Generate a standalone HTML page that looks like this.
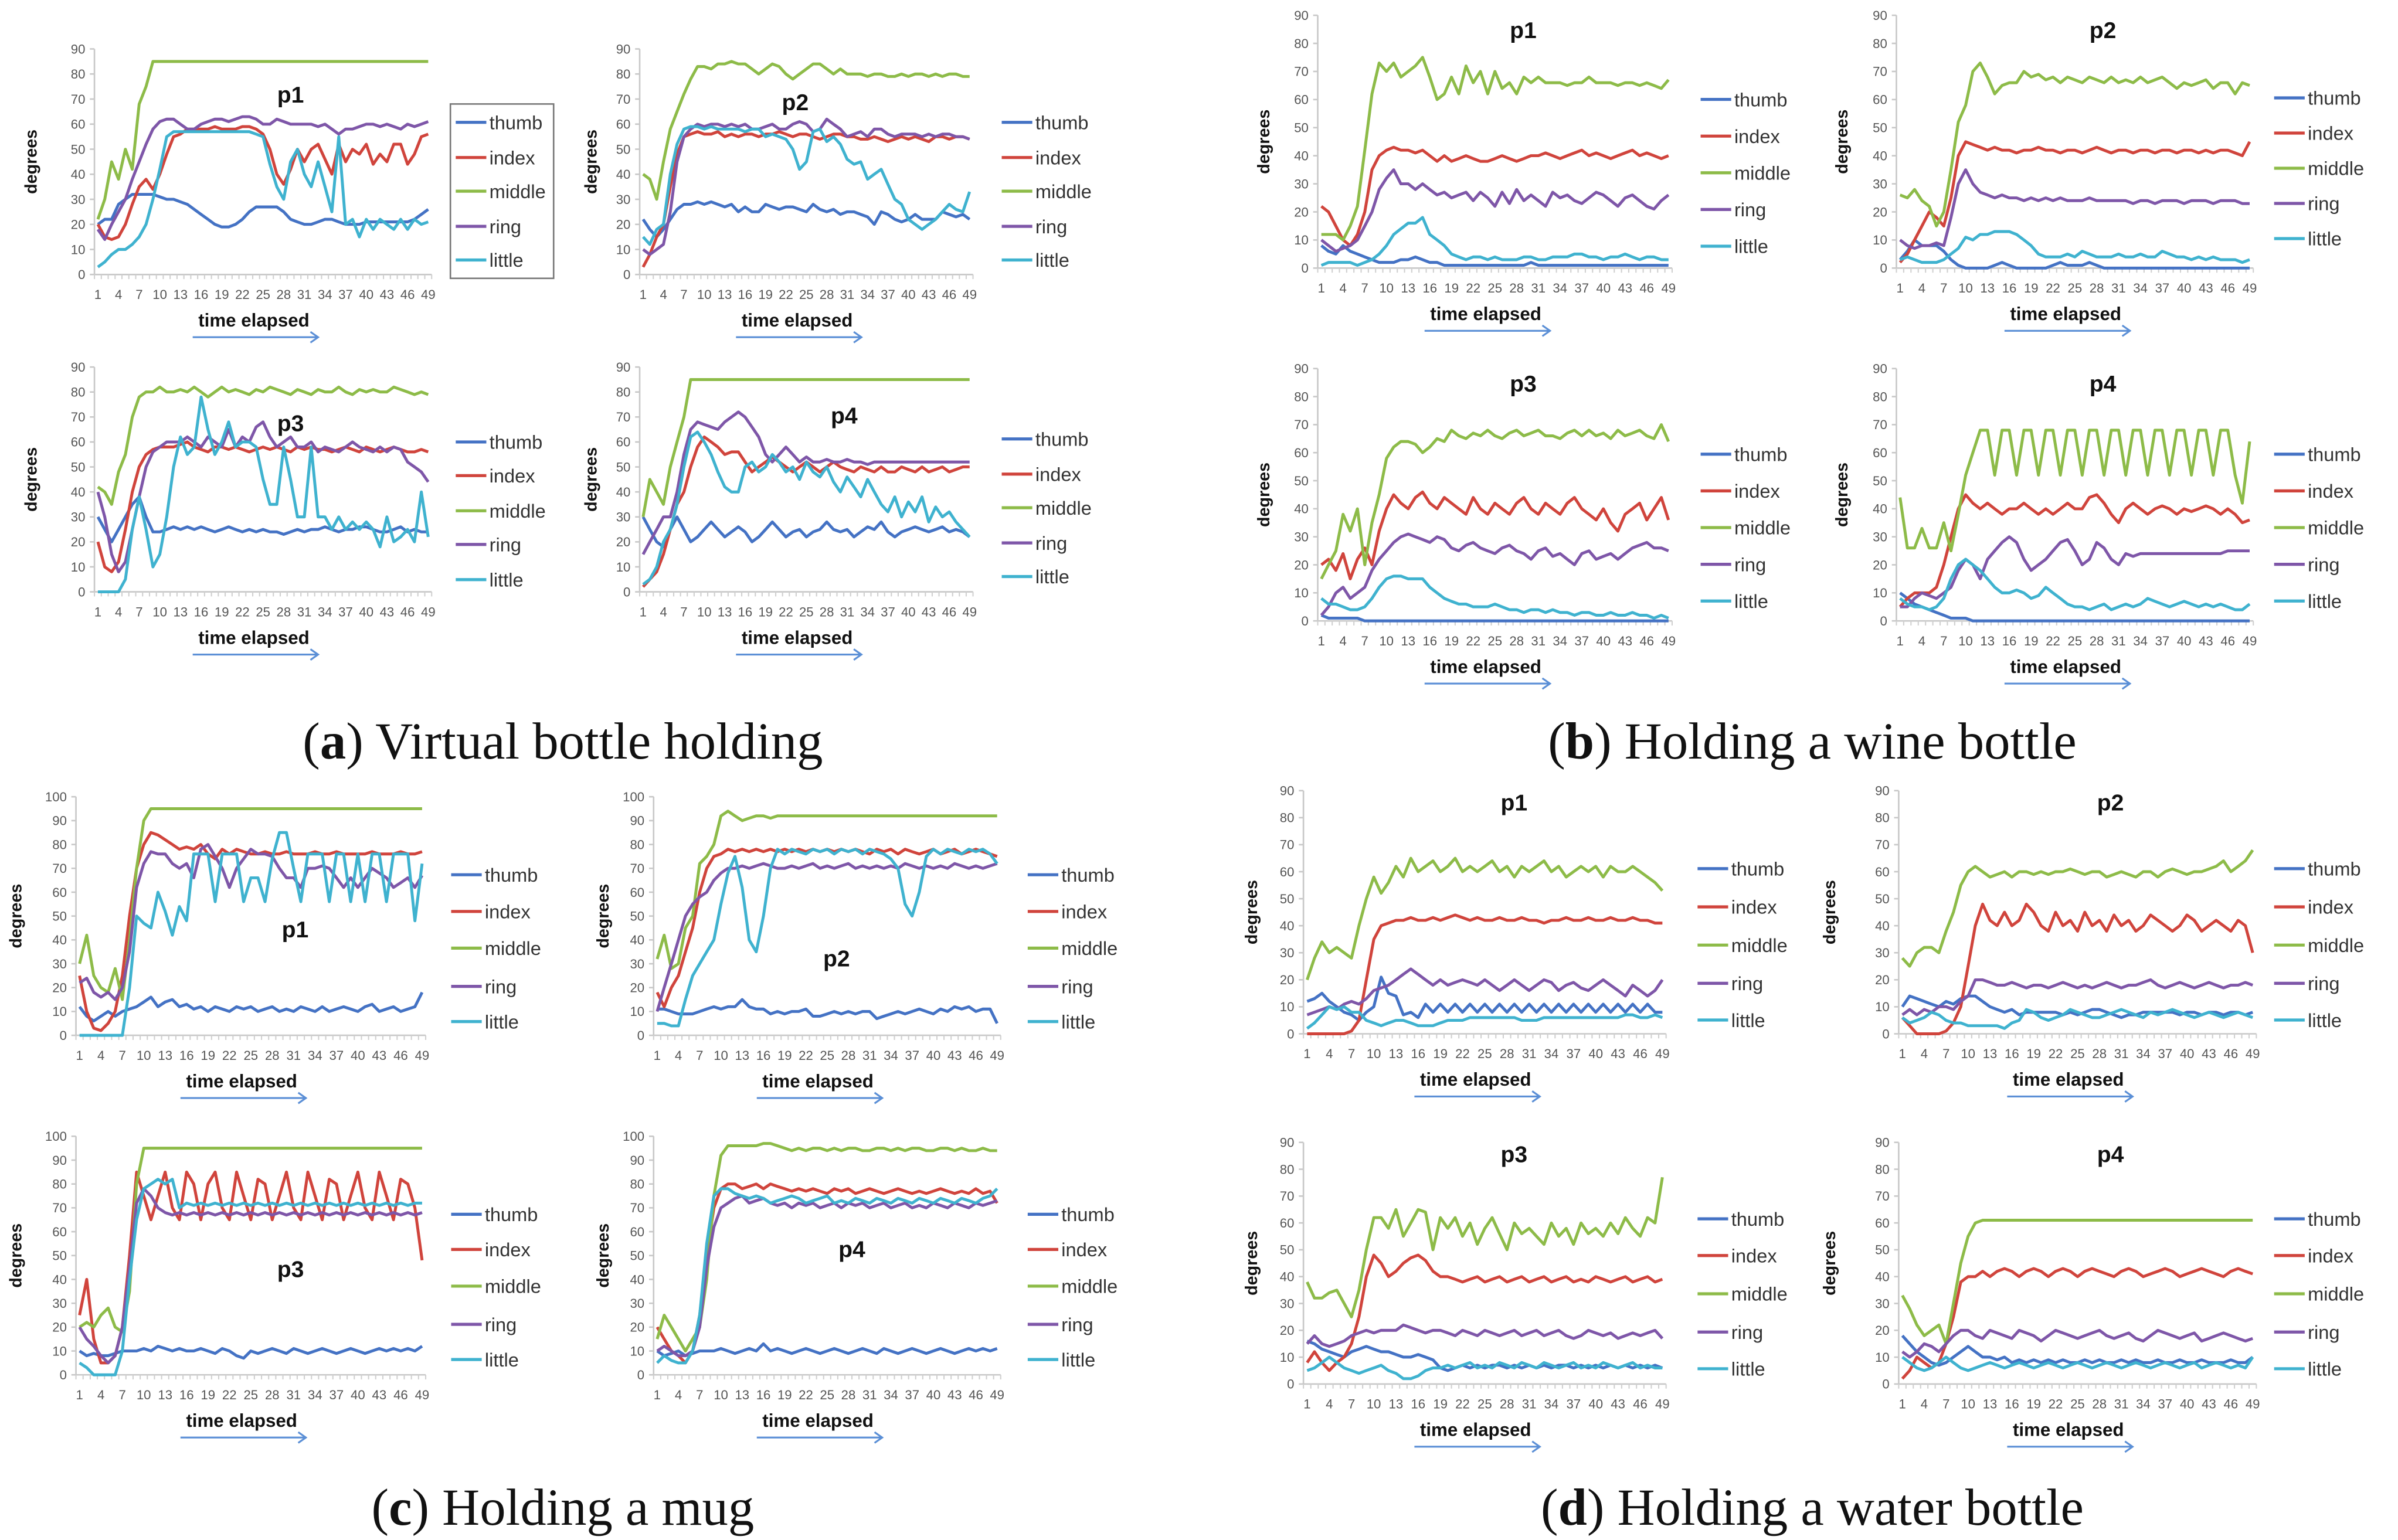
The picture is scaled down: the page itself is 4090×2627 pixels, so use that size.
<!DOCTYPE html>
<html><head><meta charset="utf-8"><style>
html,body{margin:0;padding:0;background:#fff;}
svg{display:block;}
.tk{font-family:"Liberation Sans",sans-serif;font-size:8.5px;fill:#555;}
.lg{font-family:"Liberation Sans",sans-serif;font-size:12.5px;fill:#333;}
.tt{font-family:"Liberation Sans",sans-serif;font-size:15px;font-weight:bold;fill:#111;}
.te{font-family:"Liberation Sans",sans-serif;font-size:12px;font-weight:bold;fill:#111;}
.dg{font-family:"Liberation Sans",sans-serif;font-size:11px;font-weight:bold;fill:#111;}
.cap{font-family:"Liberation Serif",serif;font-size:34px;fill:#111;}
</style></head><body>
<svg id="fig" width="4090" height="2627" viewBox="0 0 1568 1007" preserveAspectRatio="none" xmlns="http://www.w3.org/2000/svg">
<text class="cap" x="368" y="496" text-anchor="middle">(<tspan font-weight="bold">a</tspan>) Virtual bottle holding</text>
<text class="cap" x="1185" y="496" text-anchor="middle">(<tspan font-weight="bold">b</tspan>) Holding a wine bottle</text>
<text class="cap" x="368" y="997" text-anchor="middle">(<tspan font-weight="bold">c</tspan>) Holding a mug</text>
<text class="cap" x="1185" y="997" text-anchor="middle">(<tspan font-weight="bold">d</tspan>) Holding a water bottle</text>
</svg>
<script>
const seriesNames=["thumb","index","middle","ring","little"];
const xTickLabels=[1,4,7,10,13,16,19,22,25,28,31,34,37,40,43,46,49];
const yTicks90=[0,10,20,30,40,50,60,70,80,90];
const yTicks100=[0,10,20,30,40,50,60,70,80,90,100];

// (a) p1
const A1_thumb=[20,22,22,28,30,32,32,32,32,31,30,30,29,28,26,24,22,20,19,19,20,22,25,27,27,27,27,25,22,21,20,20,21,22,22,21,20,20,20,21,21,21,21,21,21,21,22,24,26];
const A1_index=[20,15,14,15,20,28,35,38,34,40,48,55,56,58,58,58,58,59,58,58,58,59,59,58,56,50,40,36,42,50,45,50,52,46,40,52,45,50,48,52,44,48,45,52,52,44,48,55,56];
const A1_middle=[22,30,45,38,50,42,68,75,85,85,85,85,85,85,85,85,85,85,85,85,85,85,85,85,85,85,85,85,85,85,85,85,85,85,85,85,85,85,85,85,85,85,85,85,85,85,85,85,85];
const A1_ring=[18,14,20,25,30,38,45,52,58,61,62,62,60,58,58,60,61,62,62,61,62,63,63,62,60,60,62,61,60,60,60,60,59,60,58,56,58,58,59,60,60,59,60,59,58,60,59,60,61];
const A1_little=[3,5,8,10,10,12,15,20,30,42,55,57,57,57,57,57,57,57,57,57,57,57,57,56,55,44,35,30,45,50,40,35,45,35,25,55,20,22,15,22,18,22,20,18,22,18,22,20,21];
// (a) p2
const A2_thumb=[22,18,15,18,22,26,28,28,29,28,29,28,27,28,25,27,25,25,28,27,26,27,27,26,25,28,26,25,26,24,25,25,24,23,20,25,24,22,21,22,24,22,22,22,25,24,23,24,22];
const A2_index=[3,8,15,20,35,48,55,56,57,56,56,57,55,56,55,56,56,55,56,56,57,56,55,56,56,55,54,55,56,56,55,55,54,54,55,54,53,54,55,54,55,54,53,55,55,54,55,55,54];
const A2_middle=[40,38,30,45,58,65,72,78,83,83,82,84,84,85,84,84,82,80,82,84,83,80,78,80,82,84,84,82,80,82,80,80,80,79,80,80,79,79,80,79,80,80,79,80,79,80,80,79,79];
const A2_ring=[10,8,10,12,25,45,55,58,60,59,60,60,59,60,59,60,58,58,59,60,58,58,60,61,60,57,58,62,60,58,55,56,57,55,58,58,56,55,56,56,56,55,56,55,56,56,55,55,54];
const A2_little=[15,12,18,20,40,52,58,59,59,58,59,58,58,58,58,57,58,58,55,56,55,54,50,42,45,57,58,53,55,52,46,44,45,38,40,42,36,30,28,22,20,18,20,22,25,28,26,25,33];
// (a) p3
const A3_thumb=[30,25,20,25,30,35,38,30,24,24,25,26,25,26,25,26,25,24,25,26,25,24,25,24,25,24,24,23,24,25,24,25,25,26,25,24,25,25,26,26,25,24,24,25,26,24,25,24,24];
const A3_index=[20,10,8,12,25,40,50,55,57,58,58,58,59,60,58,57,56,58,58,57,58,57,56,57,58,57,58,57,56,58,57,58,57,57,56,57,58,57,56,58,57,56,57,58,57,56,56,57,56];
const A3_middle=[42,40,35,48,55,70,78,80,80,82,80,80,81,80,82,80,78,80,82,80,81,80,79,81,80,82,81,80,79,81,80,79,81,80,80,82,80,79,81,80,81,80,80,82,81,80,79,80,79];
const A3_ring=[40,30,15,8,12,25,38,50,56,58,60,60,60,62,60,58,62,60,58,65,58,62,60,66,68,62,58,60,62,58,58,60,56,58,57,56,58,60,58,57,56,58,56,58,57,52,50,48,44];
const A3_little=[0,0,0,0,5,25,38,25,10,15,30,50,62,55,58,78,65,55,60,68,58,60,60,58,45,35,35,58,45,30,30,58,30,30,25,30,25,28,25,28,25,18,30,20,22,25,20,40,22];
// (a) p4
const A4_thumb=[30,25,20,18,25,30,25,20,22,25,28,25,22,24,26,24,20,22,25,28,25,22,24,25,22,24,25,28,25,24,25,22,24,26,25,28,24,22,24,25,26,25,24,25,26,24,25,24,22];
const A4_index=[2,5,8,15,25,35,40,50,58,62,60,58,55,56,56,52,48,50,52,54,52,50,48,50,52,50,48,50,52,50,49,48,50,49,48,50,48,48,50,49,48,50,48,49,50,48,49,50,50];
const A4_middle=[30,45,40,35,50,60,70,85,85,85,85,85,85,85,85,85,85,85,85,85,85,85,85,85,85,85,85,85,85,85,85,85,85,85,85,85,85,85,85,85,85,85,85,85,85,85,85,85,85];
const A4_ring=[15,20,25,30,30,40,55,65,68,67,66,65,68,70,72,70,66,62,55,52,55,58,55,52,54,52,52,53,52,52,53,52,52,51,52,52,52,52,52,52,52,52,52,52,52,52,52,52,52];
const A4_little=[3,5,10,20,25,35,50,62,64,60,55,48,42,40,40,50,52,48,50,55,52,48,50,45,52,48,46,50,44,40,46,42,38,45,40,35,32,38,30,36,32,38,28,34,30,32,28,25,22];
// (b) p1
const B1_thumb=[8,6,5,8,6,5,4,3,2,2,2,3,3,4,3,2,2,1,1,1,1,1,1,1,1,1,1,1,1,2,1,1,1,1,1,1,1,1,1,1,1,1,1,1,1,1,1,1,1];
const B1_index=[22,20,15,10,8,12,20,35,40,42,43,42,42,41,42,40,38,40,38,39,40,39,38,38,39,40,39,38,39,40,40,41,40,39,40,41,42,40,41,40,39,40,41,42,40,41,40,39,40];
const B1_middle=[12,12,12,10,15,22,42,62,73,70,73,68,70,72,75,68,60,62,68,62,72,66,70,62,70,64,66,62,68,66,68,66,66,66,65,66,66,68,66,66,66,65,66,66,65,66,65,64,67];
const B1_ring=[10,8,6,7,8,10,15,20,28,32,35,30,30,28,30,28,26,27,25,26,27,24,27,25,22,27,23,28,24,26,24,22,27,25,26,24,23,25,27,26,24,22,25,26,24,22,21,24,26];
const B1_little=[1,2,2,2,2,1,2,3,5,8,12,14,16,16,18,12,10,8,5,4,3,4,4,3,4,3,3,3,4,4,3,3,4,4,4,5,5,4,4,3,4,4,5,4,3,4,4,3,3];
// (b) p2
const B2_thumb=[3,6,10,8,8,8,6,3,1,0,0,0,0,1,2,1,0,0,0,0,0,1,2,1,1,1,2,1,0,0,0,0,0,0,0,0,0,0,0,0,0,0,0,0,0,0,0,0,0];
const B2_index=[2,5,10,15,20,18,15,25,40,45,44,43,42,43,42,42,41,42,42,43,42,42,41,42,42,41,42,43,42,41,42,42,41,42,42,41,42,42,41,42,42,41,42,41,42,42,41,40,45];
const B2_middle=[26,25,28,24,22,15,20,35,52,58,70,73,68,62,65,66,66,70,68,69,67,68,66,68,67,66,68,67,66,68,66,67,66,68,66,67,68,66,64,66,65,66,67,64,66,66,62,66,65];
const B2_ring=[10,8,7,8,8,9,8,18,30,35,30,27,26,25,26,25,25,24,25,24,25,24,25,24,24,24,25,24,24,24,24,24,23,24,24,23,24,24,24,23,24,24,24,23,24,24,24,23,23];
const B2_little=[3,4,3,2,2,2,3,5,7,11,10,12,12,13,13,13,12,10,8,5,4,4,4,5,4,6,5,4,4,4,5,4,4,5,4,4,6,5,4,4,3,4,3,4,3,3,3,2,3];
// (b) p3
const B3_thumb=[2,1,1,1,1,1,0,0,0,0,0,0,0,0,0,0,0,0,0,0,0,0,0,0,0,0,0,0,0,0,0,0,0,0,0,0,0,0,0,0,0,0,0,0,0,0,0,0,0];
const B3_index=[20,22,18,24,15,22,26,20,32,40,45,42,40,44,46,42,40,44,42,40,38,44,40,38,42,40,38,42,44,40,38,42,40,38,42,44,40,38,36,40,35,32,38,40,42,36,40,44,36];
const B3_middle=[15,20,25,38,32,40,20,35,45,58,62,64,64,63,60,62,65,64,68,66,65,67,66,68,66,65,67,68,66,67,68,66,66,65,67,68,66,68,66,67,65,68,66,67,68,66,65,70,64];
const B3_ring=[2,5,10,12,8,10,12,18,22,25,28,30,31,30,29,28,30,29,26,25,27,28,26,25,24,26,27,25,24,22,25,26,23,24,22,20,24,25,22,23,24,22,24,26,27,28,26,26,25];
const B3_little=[8,6,6,5,4,4,5,8,12,15,16,16,15,15,15,12,10,8,7,6,6,5,5,5,6,5,4,4,3,4,4,3,4,3,3,2,3,3,2,2,3,2,2,3,2,2,1,2,1];
// (b) p4
const B4_thumb=[10,8,6,5,4,3,2,1,1,1,0,0,0,0,0,0,0,0,0,0,0,0,0,0,0,0,0,0,0,0,0,0,0,0,0,0,0,0,0,0,0,0,0,0,0,0,0,0,0];
const B4_index=[5,8,10,10,10,12,20,30,40,45,42,40,42,40,38,40,40,42,40,38,40,38,40,42,40,40,44,45,42,38,35,40,42,40,38,40,41,40,38,40,39,40,41,40,38,40,38,35,36];
const B4_middle=[44,26,26,33,26,26,35,25,38,52,60,68,68,52,68,68,52,68,68,52,68,68,52,68,68,52,68,68,52,68,68,52,68,68,52,68,68,52,68,68,52,68,68,52,68,68,52,42,64];
const B4_ring=[5,5,8,10,9,8,10,12,18,22,20,15,22,25,28,30,28,22,18,20,22,25,28,29,25,20,22,28,26,22,20,24,23,24,24,24,24,24,24,24,24,24,24,24,24,25,25,25,25];
const B4_little=[8,6,5,5,4,5,8,15,20,22,20,18,15,12,10,10,11,10,8,9,12,10,8,6,5,5,4,5,6,4,5,6,5,6,8,7,6,5,6,7,6,5,6,5,6,5,4,4,6];
// (c) p1
const C1_thumb=[12,8,6,8,10,8,10,11,12,14,16,12,14,15,12,13,11,12,10,12,11,10,12,11,12,10,11,12,10,11,10,12,11,10,12,10,11,12,11,10,12,13,10,11,12,10,11,12,18];
const C1_index=[25,10,3,2,5,10,25,50,70,80,85,84,82,80,78,79,78,80,76,74,78,76,78,77,76,76,77,76,76,77,76,76,76,77,76,76,77,76,76,76,76,77,76,76,76,77,76,76,77];
const C1_middle=[30,42,25,20,18,28,15,40,70,90,95,95,95,95,95,95,95,95,95,95,95,95,95,95,95,95,95,95,95,95,95,95,95,95,95,95,95,95,95,95,95,95,95,95,95,95,95,95,95];
const C1_ring=[22,24,18,16,18,15,20,35,62,72,77,76,76,72,70,72,66,78,80,75,70,62,70,74,78,76,76,75,70,66,66,62,70,70,71,70,66,62,66,62,66,70,68,66,62,64,66,62,67];
const C1_little=[0,0,0,0,0,0,0,20,50,47,45,60,52,42,54,48,76,76,76,56,76,76,76,56,66,66,56,74,85,85,70,56,76,76,76,56,76,76,56,76,56,76,76,56,76,76,76,48,72];
// (c) p2
const C2_thumb=[11,11,10,9,9,9,10,11,12,11,12,12,15,12,11,11,9,10,9,10,10,11,8,8,9,10,9,10,9,10,10,7,8,9,10,9,10,11,10,9,11,10,12,11,12,10,11,11,5];
const C2_index=[18,12,20,25,35,45,60,70,75,76,78,77,78,77,78,77,78,77,78,77,78,77,78,77,78,77,78,77,78,77,76,78,77,78,76,78,77,76,77,78,76,77,78,76,77,78,77,76,75];
const C2_middle=[32,42,28,30,45,50,72,75,80,92,94,92,90,91,92,92,91,92,92,92,92,92,92,92,92,92,92,92,92,92,92,92,92,92,92,92,92,92,92,92,92,92,92,92,92,92,92,92,92];
const C2_ring=[10,20,30,40,50,55,58,60,65,68,70,70,71,70,71,72,71,70,70,71,70,71,72,70,71,70,71,72,70,71,70,71,70,71,70,72,71,70,71,70,71,70,72,71,70,71,70,71,72];
const C2_little=[5,5,4,4,15,25,30,35,40,55,68,75,62,40,35,50,70,78,76,78,77,76,78,77,78,76,78,77,78,76,78,77,76,74,70,55,50,60,75,78,76,78,77,76,78,77,78,76,72];
// (c) p3
const C3_thumb=[10,8,9,8,8,9,10,10,10,11,10,12,11,10,11,10,10,11,10,9,11,10,8,7,10,9,10,11,10,9,11,10,9,10,11,10,9,10,11,10,9,10,11,10,11,10,11,10,12];
const C3_index=[25,40,15,5,5,8,20,50,85,75,65,75,85,70,65,85,80,65,80,85,70,65,85,75,65,82,80,65,75,85,70,65,85,75,65,82,80,65,75,85,70,65,85,75,65,82,80,70,48];
const C3_middle=[20,22,20,25,28,20,18,35,80,95,95,95,95,95,95,95,95,95,95,95,95,95,95,95,95,95,95,95,95,95,95,95,95,95,95,95,95,95,95,95,95,95,95,95,95,95,95,95,95];
const C3_ring=[20,15,12,8,5,8,20,45,72,78,75,70,68,67,68,67,68,67,68,67,68,67,68,67,68,67,68,67,68,67,68,67,68,67,68,67,68,67,68,67,68,67,68,67,68,67,68,67,68];
const C3_little=[5,3,0,0,0,0,10,40,65,78,80,82,80,82,70,72,71,72,71,72,71,72,71,72,71,72,71,72,71,72,71,72,71,72,71,72,71,72,71,72,71,72,71,72,71,72,71,72,72];
// (c) p4
const C4_thumb=[10,8,9,10,8,9,10,10,10,11,10,9,10,11,10,13,10,11,10,9,10,11,10,9,10,11,10,9,10,11,10,9,11,10,9,10,11,10,9,10,11,10,9,10,11,10,11,10,11];
const C4_index=[20,15,10,8,5,10,25,50,70,78,80,80,78,79,80,78,80,79,78,77,78,77,78,77,76,78,77,78,76,77,78,77,76,77,78,77,76,77,76,77,78,77,76,77,76,78,76,77,72];
const C4_middle=[15,25,20,15,10,15,20,40,75,92,96,96,96,96,96,97,97,96,95,94,95,94,95,95,94,95,94,95,95,94,94,95,95,94,95,94,95,95,94,94,95,95,94,95,94,94,95,94,94];
const C4_ring=[10,12,10,8,8,10,20,45,62,70,72,74,75,72,73,74,72,71,72,70,72,71,72,70,71,72,70,72,71,72,70,71,72,70,71,72,70,71,70,72,71,70,72,71,70,72,71,72,73];
const C4_little=[5,8,6,5,5,10,25,55,75,78,78,76,75,74,75,74,72,73,74,75,74,72,73,74,75,72,73,72,74,73,72,74,73,72,74,73,72,74,73,72,74,73,72,74,73,72,74,75,78];
// (d) p1
const D1_thumb=[12,13,15,12,10,8,7,5,8,10,21,15,14,7,8,6,11,8,11,8,11,8,11,8,11,8,11,8,11,8,11,8,11,8,11,8,11,8,11,8,11,8,11,8,11,8,11,8,8];
const D1_index=[0,0,0,0,0,0,1,5,20,35,40,41,42,42,43,42,42,43,42,43,44,43,42,43,42,42,43,42,42,43,42,42,41,42,42,43,42,42,43,42,42,43,42,42,43,42,42,41,41];
const D1_middle=[20,28,34,30,32,30,28,40,50,58,52,56,62,58,65,60,62,64,60,62,65,60,62,60,62,64,60,62,58,62,60,62,64,60,62,58,60,62,60,62,58,62,60,60,62,60,58,56,53];
const D1_ring=[7,8,9,10,9,11,12,11,13,16,17,18,20,22,24,22,20,18,20,18,19,20,19,18,20,18,16,18,20,18,16,18,20,19,16,18,19,17,16,18,20,18,16,14,18,16,14,16,20];
const D1_little=[2,4,7,10,9,10,8,8,5,4,3,4,5,5,4,3,3,3,4,5,5,5,6,6,6,6,6,6,6,5,5,5,6,6,6,6,6,6,6,6,6,6,6,7,7,6,6,7,6];
// (d) p2
const D2_thumb=[10,14,13,12,11,10,12,11,13,14,14,12,10,9,8,9,7,8,8,8,8,8,7,8,7,8,9,9,8,7,6,7,7,8,8,8,8,8,7,8,8,7,8,8,7,8,8,7,8];
const D2_index=[6,3,0,0,0,0,1,4,10,25,40,48,42,40,45,40,42,48,45,40,38,45,40,42,38,45,40,42,38,44,40,42,38,40,44,42,40,38,40,44,42,38,40,42,40,38,42,40,30];
const D2_middle=[28,25,30,32,32,30,38,45,55,60,62,60,58,59,60,58,60,60,59,60,59,60,60,61,60,59,60,60,58,59,60,59,58,60,60,58,60,61,60,59,60,60,61,62,64,60,62,64,68];
const D2_ring=[7,9,7,9,8,10,10,9,12,14,20,20,19,18,18,19,18,17,18,18,17,18,19,18,17,18,17,18,19,18,17,18,18,19,20,18,17,18,19,18,17,18,19,18,17,18,18,19,18];
const D2_little=[6,4,5,6,8,7,5,4,4,3,3,3,3,3,2,4,5,9,8,6,5,6,7,9,8,7,6,6,7,8,9,8,7,6,8,7,8,9,8,7,6,7,8,7,6,7,8,7,6];
// (d) p3
const D3_thumb=[16,15,13,12,11,10,12,13,14,13,12,12,11,10,10,11,10,9,6,5,6,7,6,7,6,7,7,6,7,6,7,6,7,6,7,7,6,7,6,7,6,7,6,7,6,7,6,7,6];
const D3_index=[8,12,8,5,8,10,15,25,40,48,45,40,42,45,47,48,46,42,40,40,39,38,39,40,38,39,40,38,39,40,38,39,40,38,39,40,38,39,38,40,39,38,39,40,38,39,40,38,39];
const D3_middle=[38,32,32,34,35,30,25,35,50,62,62,58,65,55,60,65,64,50,62,58,62,55,60,52,58,62,56,50,60,56,58,55,52,60,55,58,52,60,56,58,55,60,56,62,58,55,62,60,77];
const D3_ring=[15,18,15,14,15,16,18,19,20,19,20,20,20,22,21,20,19,20,20,19,18,20,19,18,20,19,18,19,20,18,19,20,18,19,20,18,17,18,20,19,18,19,17,18,19,18,19,20,17];
const D3_little=[5,6,8,10,8,6,5,4,5,6,7,5,4,2,2,3,5,6,6,7,6,7,8,6,7,6,8,7,6,8,7,6,8,7,6,7,8,6,7,6,8,7,6,7,8,6,7,6,6];
// (d) p4
const D4_thumb=[18,15,12,10,8,7,8,10,12,14,12,10,10,9,10,8,9,8,9,8,9,8,9,8,8,9,8,9,8,8,9,8,9,8,8,9,8,8,9,8,8,9,8,8,8,9,8,8,10];
const D4_index=[2,5,10,8,6,8,15,25,38,40,40,42,40,42,43,42,40,42,43,42,40,42,43,42,40,42,43,42,41,40,42,43,42,40,41,42,43,42,40,41,42,43,42,41,40,42,43,42,41];
const D4_middle=[33,28,22,18,20,22,15,30,45,55,60,61,61,61,61,61,61,61,61,61,61,61,61,61,61,61,61,61,61,61,61,61,61,61,61,61,61,61,61,61,61,61,61,61,61,61,61,61,61];
const D4_ring=[12,10,12,15,14,12,15,18,20,20,18,17,20,19,18,17,20,19,18,16,18,20,19,18,17,18,19,20,18,17,18,19,17,16,18,20,19,18,17,18,19,16,17,18,19,18,17,16,17];
const D4_little=[10,8,6,5,6,8,10,8,6,5,6,7,8,7,6,7,8,7,6,7,8,7,6,7,8,7,6,7,8,7,6,7,8,7,6,7,8,7,6,7,8,6,7,8,7,6,7,6,10];

const colors={thumb:"#4472C4",index:"#D0443C",middle:"#8DBB48",ring:"#7E56A8",little:"#3FB2CF"};

const charts=[
 {id:"a-p1",d:[A1_thumb,A1_index,A1_middle,A1_ring,A1_little],x0:64,x1:280,y0:179.5,yt:32,max:90,title:[190,67],lx:298,ly:[80,103,125,148,170],dx:24,box:true},
 {id:"a-p2",d:[A2_thumb,A2_index,A2_middle,A2_ring,A2_little],x0:420.5,x1:634,y0:179.5,yt:32,max:90,title:[520,72],lx:655,ly:[80,103,125,148,170],dx:390},
 {id:"a-p3",d:[A3_thumb,A3_index,A3_middle,A3_ring,A3_little],x0:64,x1:280,y0:387,yt:240,max:90,title:[190,282],lx:298,ly:[289,311,334,356,379],dx:24},
 {id:"a-p4",d:[A4_thumb,A4_index,A4_middle,A4_ring,A4_little],x0:420.5,x1:634,y0:387,yt:240,max:90,title:[552,277],lx:655,ly:[287,310,332,355,377],dx:390},
 {id:"b-p1",d:[B1_thumb,B1_index,B1_middle,B1_ring,B1_little],x0:864,x1:1091,y0:175.3,yt:10,max:90,title:[996,25],lx:1112,ly:[65,89,113,137,161],dx:830},
 {id:"b-p2",d:[B2_thumb,B2_index,B2_middle,B2_ring,B2_little],x0:1242.4,x1:1471,y0:175.3,yt:10,max:90,title:[1375,25],lx:1487,ly:[64,87,110,133,156],dx:1208},
 {id:"b-p3",d:[B3_thumb,B3_index,B3_middle,B3_ring,B3_little],x0:864,x1:1091,y0:406,yt:241,max:90,title:[996,256],lx:1112,ly:[297,321,345,369,393],dx:830},
 {id:"b-p4",d:[B4_thumb,B4_index,B4_middle,B4_ring,B4_little],x0:1242.4,x1:1471,y0:406,yt:241,max:90,title:[1375,256],lx:1487,ly:[297,321,345,369,393],dx:1208},
 {id:"c-p1",d:[C1_thumb,C1_index,C1_middle,C1_ring,C1_little],x0:52,x1:276,y0:677,yt:521,max:100,title:[193,613],lx:295,ly:[572,596,620,645,668],dx:14},
 {id:"c-p2",d:[C2_thumb,C2_index,C2_middle,C2_ring,C2_little],x0:429.7,x1:652,y0:677,yt:521,max:100,title:[547,632],lx:672,ly:[572,596,620,645,668],dx:398},
 {id:"c-p3",d:[C3_thumb,C3_index,C3_middle,C3_ring,C3_little],x0:52,x1:276,y0:899,yt:743,max:100,title:[190,835],lx:295,ly:[794,817,841,866,889],dx:14},
 {id:"c-p4",d:[C4_thumb,C4_index,C4_middle,C4_ring,C4_little],x0:429.7,x1:652,y0:899,yt:743,max:100,title:[557,822],lx:672,ly:[794,817,841,866,889],dx:398},
 {id:"d-p1",d:[D1_thumb,D1_index,D1_middle,D1_ring,D1_little],x0:854.7,x1:1087,y0:676,yt:517,max:90,title:[990,530],lx:1110,ly:[568,593,618,643,667],dx:822},
 {id:"d-p2",d:[D2_thumb,D2_index,D2_middle,D2_ring,D2_little],x0:1243.9,x1:1473,y0:676,yt:517,max:90,title:[1380,530],lx:1487,ly:[568,593,618,643,667],dx:1200},
 {id:"d-p3",d:[D3_thumb,D3_index,D3_middle,D3_ring,D3_little],x0:854.7,x1:1087,y0:905,yt:747,max:90,title:[990,760],lx:1110,ly:[797,821,846,871,895],dx:822},
 {id:"d-p4",d:[D4_thumb,D4_index,D4_middle,D4_ring,D4_little],x0:1243.9,x1:1473,y0:905,yt:747,max:90,title:[1380,760],lx:1487,ly:[797,821,846,871,895],dx:1200}
];

const NS="http://www.w3.org/2000/svg";
const svg=document.getElementById("fig");
function mk(tag,attrs,parent){const e=document.createElementNS(NS,tag);for(const k in attrs)e.setAttribute(k,attrs[k]);(parent||svg).appendChild(e);return e;}

charts.forEach(c=>{
  const g=mk("g",{});
  
  
  const n=49, step=(c.x1-c.x0)/(n-1);
  const xs=i=>c.x0+i*step;
  const ys=v=>c.y0-(v/c.max)*(c.y0-c.yt);
  const ticks=c.max===100?yTicks100:yTicks90;
  const axL=c.x0-step/2, axR=c.x1+step/2;
  const ya=mk("line",{x1:axL,y1:c.yt,x2:axL,y2:c.y0,stroke:"#c8c8c8","stroke-width":1},g);
  
  
  const xa=mk("line",{x1:axL,y1:c.y0,x2:axR,y2:c.y0,stroke:"#c8c8c8","stroke-width":1},g);
  
  
  ticks.forEach(t=>{
    const y=ys(t);
    mk("line",{x1:axL-3,y1:y,x2:axL,y2:y,stroke:"#c8c8c8","stroke-width":1},g);
    const tl=mk("text",{x:axL-6,y:y+3,"text-anchor":"end",class:"tk"},g);
    tl.textContent=t;
    
    
  });
  for(let i=0;i<=n;i++){const x=axL+i*step;mk("line",{x1:x,y1:c.y0,x2:x,y2:c.y0+3,stroke:"#d0d0d0","stroke-width":0.8},g);}
  xTickLabels.forEach(v=>{
    const xl=mk("text",{x:xs(v-1),y:c.y0+16,"text-anchor":"middle",class:"tk"},g);
    xl.textContent=v;
    
    
  });
  c.d.forEach((arr,si)=>{
    const pts=arr.map((v,i)=>xs(i).toFixed(1)+","+ys(v).toFixed(1)).join(" ");
    const pl=mk("polyline",{points:pts,fill:"none",stroke:colors[seriesNames[si]],"stroke-width":1.9,"stroke-linejoin":"round"},g);
    
    
  });
  const tt=mk("text",{x:c.title[0],y:c.title[1],"text-anchor":"middle",class:"tt"},g);
  tt.textContent=c.id.split("-")[1];
  
  
  const ym=(c.y0+c.yt)/2;
  const dg=mk("text",{x:c.dx,y:ym,"text-anchor":"middle",class:"dg",transform:"rotate(-90 "+c.dx+" "+ym+")"},g);
  dg.textContent="degrees";
  
  
  const mid=(c.x0+c.x1)/2-6;
  const te=mk("text",{x:mid,y:c.y0+34,"text-anchor":"middle",class:"te"},g);
  te.textContent="time elapsed";
  
  
  const ar=mk("path",{d:`M${mid-40},${c.y0+41} H${mid+42} M${mid+37},${c.y0+37.5} L${mid+42},${c.y0+41} L${mid+37},${c.y0+44.5}`,fill:"none",stroke:"#5b8fd6","stroke-width":1.2},g);
  
  
  if(c.box){
    const bx=mk("rect",{x:294.5,y:68,width:67.5,height:114,fill:"none",stroke:"#777","stroke-width":1},g);
    
    
  }
  seriesNames.forEach((s,i)=>{
    const y=c.ly[i];
    const lg=mk("g",{},g);
    
    
    mk("line",{x1:c.lx,y1:y,x2:c.lx+20,y2:y,stroke:colors[s],"stroke-width":2},lg);
    const lt=mk("text",{x:c.lx+22,y:y+4.5,class:"lg"},lg);
    lt.textContent=s;
  });
});
</script>
</body></html>
